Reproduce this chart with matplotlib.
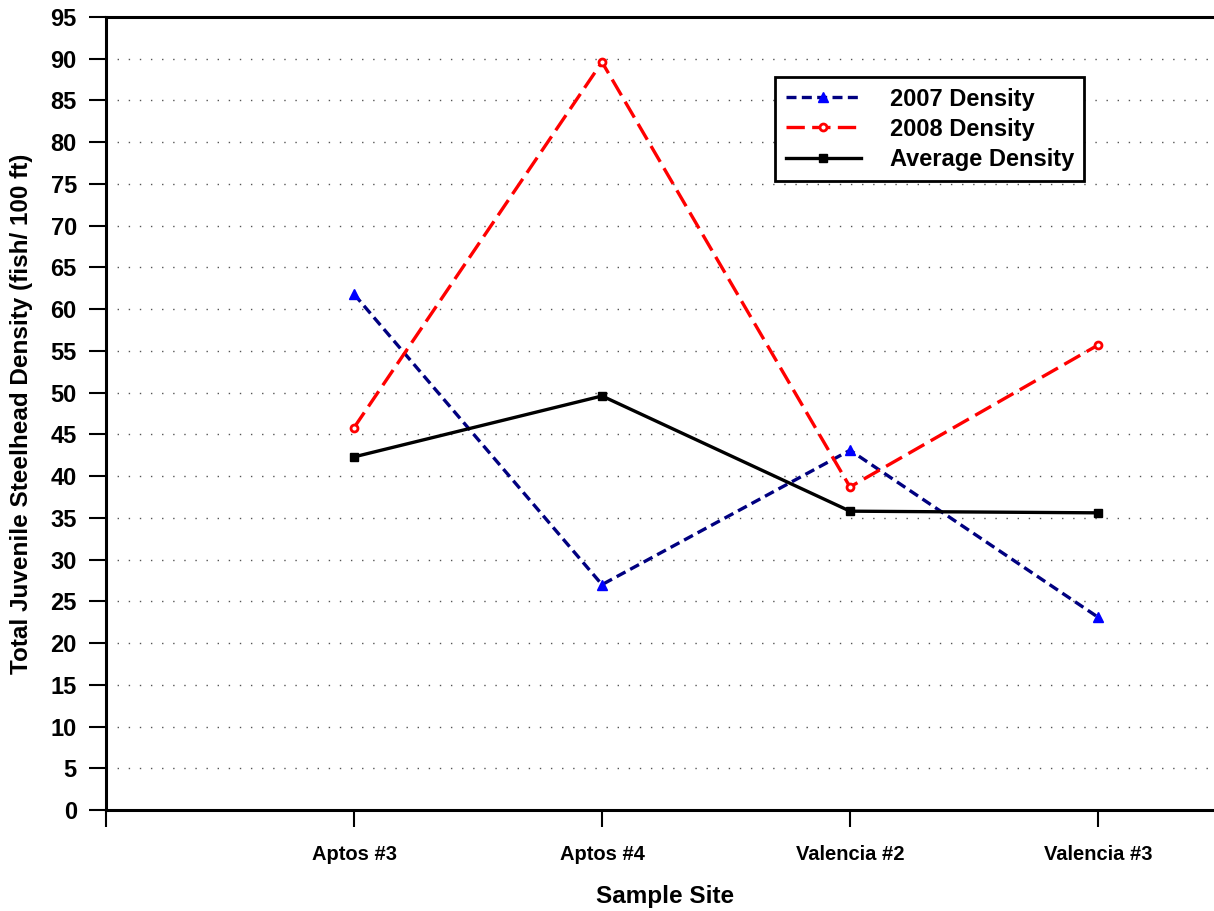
import matplotlib.pyplot as plt

plt.rcParams['font.family'] = ['Liberation Sans', 'DejaVu Sans']
plt.rcParams['font.weight'] = 'bold'

sites = ["Aptos #3", "Aptos #4", "Valencia #2", "Valencia #3"]
density_2007 = [61.8, 27.0, 43.1, 23.1]
density_2008 = [45.8, 89.6, 38.7, 55.7]
density_avg = [42.3, 49.6, 35.8, 35.6]

fig = plt.figure(figsize=(12.14, 9.11), dpi=100)
ax = fig.add_axes([106 / 1214, 101 / 911, 1 - 106 / 1214, 793 / 911])

x = list(range(len(sites)))

ax.plot(x, density_2007, color="#000080", lw=2.4, ls=(0, (3, 1.6)),
        marker="^", ms=7, mfc="#0000ff", mec="#0000ff", label="2007 Density")
ax.plot(x, density_2008, color="#ff0000", lw=2.4, ls=(0, (5.5, 2.2)),
        marker="o", ms=5, mfc="white", mec="#ff0000", mew=2, label="2008 Density")
ax.plot(x, density_avg, color="black", lw=2.4, ls="-",
        marker="s", ms=6, mfc="black", mec="black", label="Average Density")

ax.set_xlim(-1, (1214 - 354) / 248)
ax.set_ylim(0, 95)
ax.set_yticks(range(0, 96, 5))
ax.set_xticks([-1] + x)
ax.set_xticklabels([""] + sites, fontsize=14.5, fontweight="bold")
ax.tick_params(axis="y", labelsize=17, length=12, width=1.5, direction="out", pad=9)
ax.tick_params(axis="x", length=12, width=1.5, direction="out", pad=13)
for lab in ax.get_yticklabels():
    lab.set_fontweight("bold")

for v in range(5, 95, 5):
    ax.axhline(v, color="#555555", lw=1, ls=(0, (1, 7)), zorder=0)

for s in ["left", "bottom", "top"]:
    ax.spines[s].set_linewidth(2.2)
ax.spines["right"].set_visible(False)

fig.text(22 / 1214, 1 - 414 / 911, "Total Juvenile Steelhead Density (fish/ 100 ft)",
         fontsize=17.5, fontweight="bold", rotation=90, ha="center", va="center")
fig.text(665 / 1214, 1 - 897 / 911, "Sample Site", fontsize=17.5,
         fontweight="bold", ha="center", va="center")

leg = ax.legend(loc="upper left", bbox_to_anchor=(775 / 1214, 1 - 77 / 911),
                bbox_transform=fig.transFigure, prop={"size": 17, "weight": "bold"},
                frameon=True, fancybox=False, handlelength=3.2, borderpad=0.45,
                labelspacing=0.3, handletextpad=1.2, borderaxespad=0)
leg.get_frame().set_edgecolor("black")
leg.get_frame().set_linewidth(2)
leg.get_frame().set_alpha(1)

fig.savefig("out.png", dpi=100)
